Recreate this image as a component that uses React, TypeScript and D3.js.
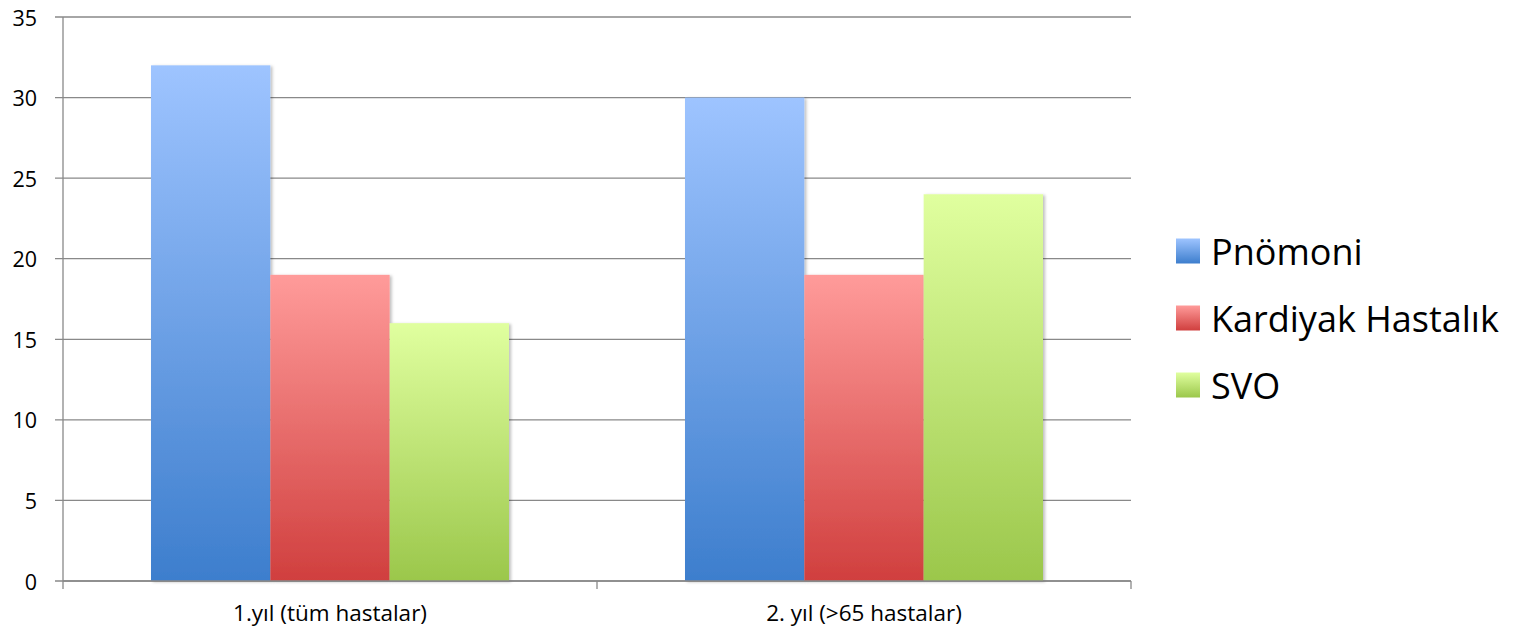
import React from "react";
import * as d3 from "d3";

const categories = ["1.yıl (tüm hastalar)", "2. yıl (>65 hastalar)"];
const seriesNames = ["Pnömoni", "Kardiyak Hastalık", "SVO"];
const pnomoni = [32, 30];
const kardiyak = [19, 19];
const svo = [16, 24];
const yTicks = [0, 5, 10, 15, 20, 25, 30, 35];

const seriesValues = [pnomoni, kardiyak, svo];
const gradients = [
  { id: "gBlue", top: "#9EC4FF", bottom: "#3D7ECD" },
  { id: "gRed", top: "#FF9B9A", bottom: "#D03F3E" },
  { id: "gGreen", top: "#E0FF9F", bottom: "#9BC74B" },
];

export default function App() {
  const W = 1522, H = 631;
  const left = 63, right = 1131, top = 17, bottom = 581;
  const x0 = d3.scaleBand().domain(categories).range([left, right]).paddingInner(0).paddingOuter(0);
  const y = d3.scaleLinear().domain([0, 35]).range([bottom, top]);
  const groupPad = 88;
  const x1 = d3
    .scaleBand()
    .domain(seriesNames)
    .range([0, x0.bandwidth() - 2 * groupPad])
    .padding(0);
  const font = "'Open Sans', 'Liberation Sans', sans-serif";

  return (
    <svg width={W} height={H} style={{ position: "absolute", left: 0, top: 0, background: "#fff" }}>
      <defs>
        {gradients.map((g) => (
          <linearGradient key={g.id} id={g.id} x1="0" y1="0" x2="0" y2="1">
            <stop offset="0%" stopColor={g.top} />
            <stop offset="100%" stopColor={g.bottom} />
          </linearGradient>
        ))}
        <filter id="shadow" x="-10%" y="-10%" width="130%" height="130%">
          <feDropShadow dx="2" dy="1" stdDeviation="1.5" floodColor="#000" floodOpacity="0.25" />
        </filter>
      </defs>
      {yTicks.map((t) => (
        <g key={t}>
          <line x1={55} x2={right} y1={y(t)} y2={y(t)} stroke="#898989" strokeWidth={1.3} />
          <text x={37} y={y(t)} textAnchor="end" dominantBaseline="central" fontFamily={font} fontSize={21.5} fill="#000">
            {t}
          </text>
        </g>
      ))}
      {categories.map((c, ci) => (
        <g key={c}>
          {seriesNames.map((s, si) => {
            const v = seriesValues[si][ci];
            const bx = (x0(c) as number) + groupPad + (x1(s) as number);
            return (
              <rect
                key={s}
                x={bx}
                y={y(v)}
                width={x1.bandwidth()}
                height={y(0) - y(v)}
                fill={`url(#${gradients[si].id})`}
                filter="url(#shadow)"
              />
            );
          })}
        </g>
      ))}
      <line x1={left} x2={left} y1={top} y2={bottom} stroke="#898989" strokeWidth={1.3} />
      <line x1={left} x2={right} y1={bottom} y2={bottom} stroke="#898989" strokeWidth={1.3} />
      {[left, left + x0.bandwidth(), right].map((xx, i) => (
        <line key={i} x1={xx} x2={xx} y1={bottom} y2={589} stroke="#898989" strokeWidth={1.3} />
      ))}
      {categories.map((c) => (
        <text
          key={c}
          x={(x0(c) as number) + x0.bandwidth() / 2}
          y={612}
          textAnchor="middle"
          dominantBaseline="central"
          fontFamily={font}
          fontSize={22.5}
          fill="#000"
        >
          {c}
        </text>
      ))}
      {seriesNames.map((s, i) => {
        const cy = 251 + i * 67;
        return (
          <g key={s}>
            <rect x={1176} y={cy - 12.5} width={24} height={25} fill={`url(#${gradients[i].id})`} />
            <text x={1211} y={cy} dominantBaseline="central" fontFamily={font} fontSize={36} fill="#000">
              {s}
            </text>
          </g>
        );
      })}
    </svg>
  );
}
